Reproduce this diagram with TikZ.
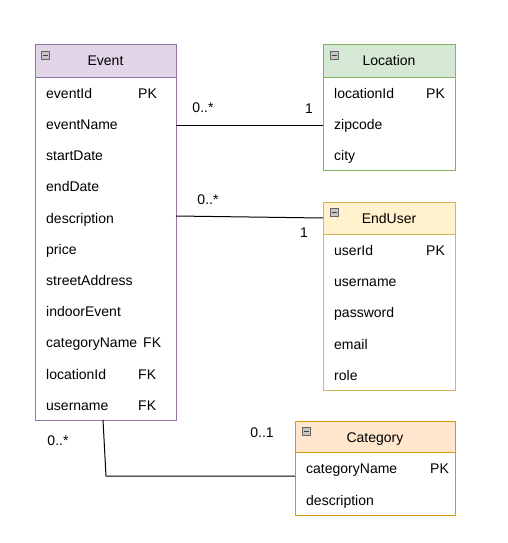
\documentclass[tikz,border=0pt]{standalone}
\usepackage{fontspec}
\setmainfont{Liberation Sans}
\usetikzlibrary{calc}
\definecolor{evFill}{HTML}{E1D5E7}\definecolor{evLine}{HTML}{9673A6}
\definecolor{loFill}{HTML}{D5E8D4}\definecolor{loLine}{HTML}{82B366}
\definecolor{euFill}{HTML}{FFF2CC}\definecolor{euLine}{HTML}{D6B656}
\definecolor{caFill}{HTML}{FFE6CC}\definecolor{caLine}{HTML}{D79B00}
\begin{document}
\begin{tikzpicture}[x=1pt,y=-1pt,
  font=\fontsize{14}{16}\selectfont,
  box/.style={draw, line width=1pt, anchor=north west, inner sep=0pt, outer sep=0pt},
  fld/.style={anchor=west, inner sep=0pt, text height=10pt, text depth=3pt, yshift=-1.5pt},
  lbl/.style={inner sep=0pt, text height=10pt, text depth=3pt, yshift=-1.5pt},
  title/.style={inner sep=0pt, text height=10pt, text depth=3pt, yshift=-1.5pt},
  minusicon/.style={draw=gray!80!black, fill=gray!45, line width=0.5pt, minimum size=8pt, inner sep=0pt, path picture={\draw[black!75, line width=1pt] ([xshift=1.5pt]path picture bounding box.west) -- ([xshift=-1.5pt]path picture bounding box.east);}},
  conn/.style={draw=black, line width=1pt}
]
\useasboundingbox (0,0) rectangle (507,543);
% ---------- Event ----------
\node[box, draw=evLine, fill=white, minimum width=141pt, minimum height=343pt] (event) at (35,77) {};
\node[box, draw=evLine, fill=evFill, minimum width=141pt, minimum height=32pt] (eventH) at (35,45) {};
\node[title] (eventT) at (105.5,61) {Event};
\node[minusicon] (eventI) at (45.5,55.5) {};
\node[fld] (eId) at (46,93) {eventId};
\node[fld] (eIdK) at (138,93) {PK};
\node[fld] (eName) at (46,124) {eventName};
\node[fld] (eStart) at (46,155) {startDate};
\node[fld] (eEnd) at (46,186) {endDate};
\node[fld] (eDesc) at (46,218) {description};
\node[fld] (ePrice) at (46,249) {price};
\node[fld] (eStreet) at (46,280) {streetAddress};
\node[fld] (eIndoor) at (46,311) {indoorEvent};
\node[fld] (eCat) at (46,342) {categoryName};
\node[fld] (eCatK) at (143,342) {FK};
\node[fld] (eLoc) at (46,374) {locationId};
\node[fld] (eLocK) at (138,374) {FK};
\node[fld] (eUser) at (46,405) {username};
\node[fld] (eUserK) at (138,405) {FK};
% ---------- Location ----------
\node[box, draw=loLine, fill=white, minimum width=132pt, minimum height=93pt] (location) at (323,77) {};
\node[box, draw=loLine, fill=loFill, minimum width=132pt, minimum height=32pt] (locationH) at (323,45) {};
\node[title] (locationT) at (389,61) {Location};
\node[minusicon] (locationI) at (334,55.5) {};
\node[fld] (lId) at (334,93) {locationId};
\node[fld] (lIdK) at (426,93) {PK};
\node[fld] (lZip) at (334,124) {zipcode};
\node[fld] (lCity) at (334,155) {city};
% ---------- EndUser ----------
\node[box, draw=euLine, fill=white, minimum width=132pt, minimum height=156pt] (enduser) at (323,234) {};
\node[box, draw=euLine, fill=euFill, minimum width=132pt, minimum height=32pt] (enduserH) at (323,202) {};
\node[title] (enduserT) at (389,218) {EndUser};
\node[minusicon] (enduserI) at (334,212.5) {};
\node[fld] (uId) at (334,250) {userId};
\node[fld] (uIdK) at (426,250) {PK};
\node[fld] (uName) at (334,281) {username};
\node[fld] (uPass) at (334,312) {password};
\node[fld] (uMail) at (334,344) {email};
\node[fld] (uRole) at (334,375) {role};
% ---------- Category ----------
\node[box, draw=caLine, fill=white, minimum width=160pt, minimum height=63pt] (category) at (295,452) {};
\node[box, draw=caLine, fill=caFill, minimum width=160pt, minimum height=31pt] (categoryH) at (295,421) {};
\node[title] (categoryT) at (375,437) {Category};
\node[minusicon] (categoryI) at (306.5,431.5) {};
\node[fld] (cName) at (306,468) {categoryName};
\node[fld] (cNameK) at (430,468) {PK};
\node[fld] (cDesc) at (306,500) {description};
% ---------- connectors ----------
\draw[conn] (event.east |- eName) -- (location.west |- lZip);
\coordinate (descOut) at ($(event.east |- eDesc)+(0,-3.5)$);
\draw[conn] (descOut) -- (enduserH.west);
\coordinate (bend) at (106,476);
\draw[conn] ([xshift=-2.5pt]event.south) -- (bend) -- (bend -| category.west);
% ---------- multiplicities ----------
\node[lbl] (m1a) at (203,107) {0..*};
\node[lbl] (m1b) at (309,108) {1};
\node[lbl] (m2a) at (208,199) {0..*};
\node[lbl] (m2b) at (304,232) {1};
\node[lbl] (m3a) at (58,440) {0..*};
\node[lbl] (m3b) at (262,432) {0..1};
\end{tikzpicture}
\end{document}
